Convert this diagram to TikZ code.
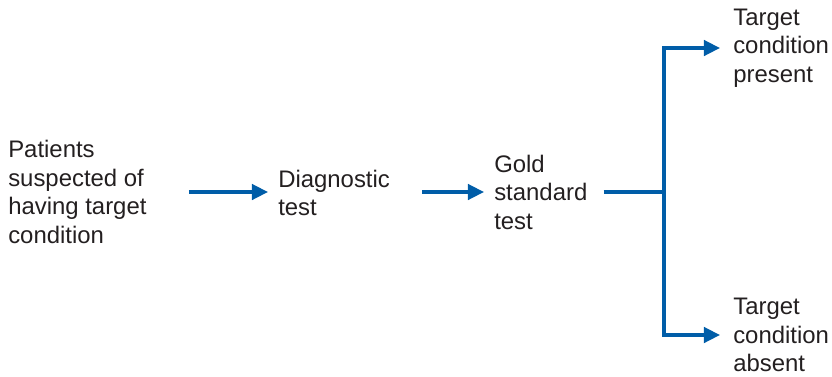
\documentclass[tikz,border=0pt]{standalone}
\usepackage{fontspec}
\setmainfont{Liberation Sans}
\usetikzlibrary{arrows.meta}

\definecolor{flowblue}{RGB}{0,93,168}
\definecolor{inkgray}{RGB}{35,31,32}

\tikzset{
  >={Triangle[length=11.5pt,width=11pt]},
  txt/.style={anchor=west, align=left, inner sep=0pt, text=inkgray,
    font=\fontsize{17}{20.3}\selectfont},
  flow/.style={draw=flowblue, line width=2.4pt},
}

\begin{document}
\begin{tikzpicture}[x=0.025cm,y=-0.025cm]

                  \useasboundingbox (0,0) rectangle (832,376);

                  \node[txt] (pat) at (8,192) {Patients\\suspected of\\having target\\condition};
                  \node[txt] (diag) at (278,193) {Diagnostic\\test};
                  \node[txt] (gold) at (494,192) {Gold\\standard\\test};
                  \node[txt] (pres) at (733,48) {Target\\condition\\present};
                  \node[txt] (abs) at (733,335) {Target\\condition\\absent};

                  \coordinate (br) at (664,192);

                  \draw[flow,->,shorten <=1.05cm,shorten >=0.25cm] (pat.east) -- (pat.east -| diag.west);
                  \draw[flow,->,shorten <=0.8cm,shorten >=0.25cm] (diag.east |- pat.east) -- (pat.east -| gold.west);
                  \draw[flow,shorten <=0.4cm] (gold.east |- br) -- (br);
                  \draw[flow,<->,shorten <=0.325cm,shorten >=0.325cm] (pres.west) -| (br) |- (abs.west);

              \end{tikzpicture}
\end{document}
